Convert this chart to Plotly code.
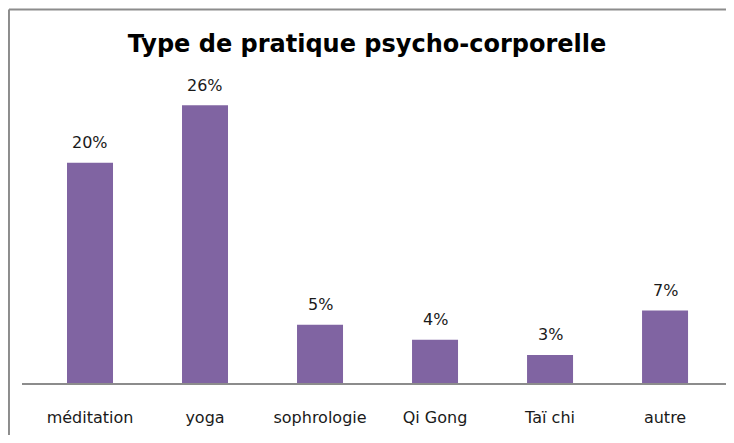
import plotly.graph_objects as go

# Type de pratique psycho-corporelle (share of respondents)
categories = ["méditation", "yoga", "sophrologie", "Qi Gong", "Taï chi", "autre"]
shares = [0.204, 0.257, 0.054, 0.040, 0.026, 0.067]

bar_color = "#8064A2"
frame_color = "#8C8C8C"
text_font = dict(family="DejaVu Sans, sans-serif", size=16, color="#1a1a1a")

fig = go.Figure()
fig.add_trace(
    go.Bar(
        x=categories,
        y=shares,
        width=0.4,
        marker=dict(color=bar_color, line=dict(width=0)),
        hoverinfo="x+y",
    )
)

# data labels above the bars
for cat, val in zip(categories, shares):
    fig.add_annotation(
        x=cat,
        y=val,
        text=f"{val:.0%}",
        showarrow=False,
        yanchor="middle",
        yshift=20,
        font=text_font,
    )

# grey frame around the chart: only the left and top sides are in view
fig.add_shape(type="line", xref="paper", yref="paper",
              x0=-0.0185, x1=-0.0185, y0=-0.3, y1=1.156,
              line=dict(color=frame_color, width=2))
fig.add_shape(type="line", xref="paper", yref="paper",
              x0=-0.0185, x1=1.0, y0=1.156, y1=1.156,
              line=dict(color=frame_color, width=2))

fig.update_layout(
    title=dict(
        text="<b>Type de pratique psycho-corporelle</b>",
        x=0.5,
        xanchor="center",
        y=1 - 36 / 427,
        yanchor="middle",
        font=dict(family="DejaVu Sans, sans-serif", size=24, color="#000000"),
    ),
    # page adds an 8px body margin, keep the figure inside the window
    width=718,
    height=427,
    margin=dict(l=14, r=0, t=52, b=52),
    paper_bgcolor="white",
    plot_bgcolor="white",
    showlegend=False,
    xaxis=dict(
        range=[-0.5913, 5.530],
        showline=True,
        linecolor=frame_color,
        linewidth=1.5,
        showgrid=False,
        ticks="",
        ticklabelstandoff=19,
        tickfont=text_font,
    ),
    yaxis=dict(
        range=[0, 0.299],
        visible=False,
        showgrid=False,
        zeroline=False,
    ),
)

fig.write_html("out.html")
